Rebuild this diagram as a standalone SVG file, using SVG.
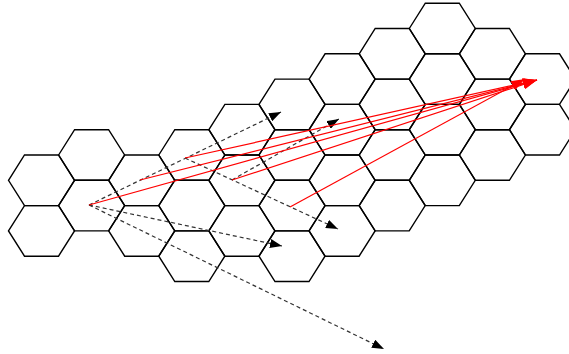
<svg xmlns="http://www.w3.org/2000/svg" xmlns:xlink="http://www.w3.org/1999/xlink" width="569" height="354" viewBox="0 0 569 354">
<style>
.hex{fill:none;stroke:#000;stroke-width:1.4;stroke-linejoin:miter}
.dash{fill:none;stroke:#333;stroke-width:1.2;stroke-dasharray:4 3}
.red{fill:none;stroke:#ff0000;stroke-width:1.2}
</style>
<defs>
<path id="hx" d="M-33,0 L-17,-25.3 L17,-25.3 L33,0 L17,25.3 L-17,25.3 Z"/>
<marker id="ab" viewBox="0 0 12 9" refX="12" refY="4.5" markerWidth="12" markerHeight="9" markerUnits="userSpaceOnUse" orient="auto"><path d="M0,0 L12,4.5 L0,9 Z" fill="#000"/></marker>
<marker id="ar" viewBox="0 0 14 10" refX="14" refY="5" markerWidth="14" markerHeight="10" markerUnits="userSpaceOnUse" orient="auto"><path d="M0,0 L14,5 L0,10 Z" fill="#ff0000"/></marker>
</defs>
<rect width="569" height="354" fill="#fff"/>
<g id="cells" class="hex">
<g id="h0a"><use href="#hx" x="41.5" y="180.3"/></g>
<g id="h0b"><use href="#hx" x="41.5" y="230.9"/></g>
<g id="h1a"><use href="#hx" x="91.6" y="155"/></g>
<g id="h1b"><use href="#hx" x="91.6" y="205.6"/></g>
<g id="h2a"><use href="#hx" x="141.7" y="180.3"/></g>
<g id="h2b"><use href="#hx" x="141.7" y="230.9"/></g>
<g id="h3a"><use href="#hx" x="191.8" y="155"/></g>
<g id="h3b"><use href="#hx" x="191.8" y="205.6"/></g>
<g id="h3c"><use href="#hx" x="191.8" y="256.2"/></g>
<g id="h4a"><use href="#hx" x="241.9" y="129.7"/></g>
<g id="h4b"><use href="#hx" x="241.9" y="180.3"/></g>
<g id="h4c"><use href="#hx" x="241.9" y="230.9"/></g>
<g id="h5a"><use href="#hx" x="292" y="104.4"/></g>
<g id="h5b"><use href="#hx" x="292" y="155"/></g>
<g id="h5c"><use href="#hx" x="292" y="205.6"/></g>
<g id="h5d"><use href="#hx" x="292" y="256.2"/></g>
<g id="h6a"><use href="#hx" x="342.1" y="79.1"/></g>
<g id="h6b"><use href="#hx" x="342.1" y="129.7"/></g>
<g id="h6c"><use href="#hx" x="342.1" y="180.3"/></g>
<g id="h6d"><use href="#hx" x="342.1" y="230.9"/></g>
<g id="h7a"><use href="#hx" x="392.2" y="53.8"/></g>
<g id="h7b"><use href="#hx" x="392.2" y="104.4"/></g>
<g id="h7c"><use href="#hx" x="392.2" y="155"/></g>
<g id="h7d"><use href="#hx" x="392.2" y="205.6"/></g>
<g id="h8a"><use href="#hx" x="442.3" y="28.5"/></g>
<g id="h8b"><use href="#hx" x="442.3" y="79.1"/></g>
<g id="h8c"><use href="#hx" x="442.3" y="129.7"/></g>
<g id="h8d"><use href="#hx" x="442.3" y="180.3"/></g>
<g id="h9a"><use href="#hx" x="492.4" y="53.8"/></g>
<g id="h9b"><use href="#hx" x="492.4" y="104.4"/></g>
<g id="h9c"><use href="#hx" x="492.4" y="155"/></g>
<g id="h10a"><use href="#hx" x="542.5" y="79.1"/></g>
<g id="h10b"><use href="#hx" x="542.5" y="129.7"/></g>
</g>
<g id="connectors">
<line class="dash" x1="89" y1="205" x2="281" y2="112" marker-end="url(#ab)"/>
<line class="dash" x1="89" y1="205" x2="282" y2="246" marker-end="url(#ab)"/>
<line class="dash" x1="89" y1="205" x2="384" y2="349" marker-end="url(#ab)"/>
<line class="dash" x1="185" y1="158" x2="338" y2="229" marker-end="url(#ab)"/>
<line class="dash" x1="232" y1="180" x2="339" y2="119" marker-end="url(#ab)"/>
<line class="red" x1="89" y1="205" x2="537" y2="80" marker-end="url(#ar)"/>
<line class="red" x1="140" y1="180" x2="537" y2="80" marker-end="url(#ar)"/>
<line class="red" x1="185" y1="158" x2="537" y2="80" marker-end="url(#ar)"/>
<line class="red" x1="232" y1="180" x2="537" y2="80" marker-end="url(#ar)"/>
<line class="red" x1="290" y1="207" x2="525" y2="79" marker-end="url(#ar)"/>
</g>
</svg>
